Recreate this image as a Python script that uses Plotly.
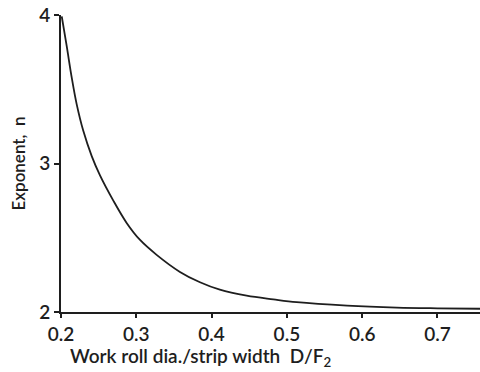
import plotly.graph_objects as go

ratio = [0.201, 0.2076, 0.2142, 0.2208, 0.2296, 0.2408, 0.2518, 0.2695, 0.2872, 0.305,
         0.327, 0.358, 0.3846, 0.411, 0.4466, 0.482, 0.513, 0.58, 0.646, 0.70, 0.757]
exponent = [3.99, 3.79, 3.58, 3.40, 3.22, 3.05, 2.92, 2.75, 2.60, 2.485,
            2.385, 2.27, 2.20, 2.15, 2.11, 2.085, 2.066, 2.043, 2.03, 2.025, 2.022]

x_ticks = [0.2, 0.3, 0.4, 0.5, 0.6, 0.7]
y_ticks = [2, 3, 4]
x_title = "Work roll dia./strip width  D/F<sub>2</sub>"
y_title = "Exponent,  n"

ink = "#1e1e1e"
fig = go.Figure(go.Scatter(x=ratio, y=exponent, mode="lines",
                           line=dict(color=ink, width=1.8, shape="spline", smoothing=1.0),
                           cliponaxis=False, showlegend=False))

fig.update_layout(
    width=480, height=372,
    margin=dict(l=61, r=0, t=15, b=60),
    paper_bgcolor="white", plot_bgcolor="white",
    font=dict(family="Lato, Open Sans, sans-serif", size=20, color=ink),
    xaxis=dict(range=[0.2, 0.7565], tickvals=x_ticks, ticktext=[str(v) for v in x_ticks],
               automargin=False, showgrid=False, zeroline=False, showline=True,
               linecolor=ink, linewidth=2,
               ticks="outside", ticklen=4, tickwidth=1.5, tickcolor=ink,
               tickfont=dict(size=19, weight=600)),
    yaxis=dict(range=[2, 4], tickvals=y_ticks, ticktext=[str(v) for v in y_ticks],
               automargin=False, showgrid=False, zeroline=False, showline=True,
               linecolor=ink, linewidth=2,
               ticks="outside", ticklen=5, tickwidth=1.5, tickcolor=ink,
               tickfont=dict(size=19, weight=600),
               title=dict(text=y_title, font=dict(size=17, weight=600), standoff=9)),
    annotations=[dict(text=x_title, xref="paper", yref="paper", x=0.0167, y=0,
                      xanchor="left", yanchor="middle", yshift=-45, showarrow=False,
                      font=dict(size=19, weight=600, color=ink))],
)
fig.write_html("out.html", config={"displayModeBar": False},
               post_script="document.body.style.margin='0';document.body.style.padding='0';")
